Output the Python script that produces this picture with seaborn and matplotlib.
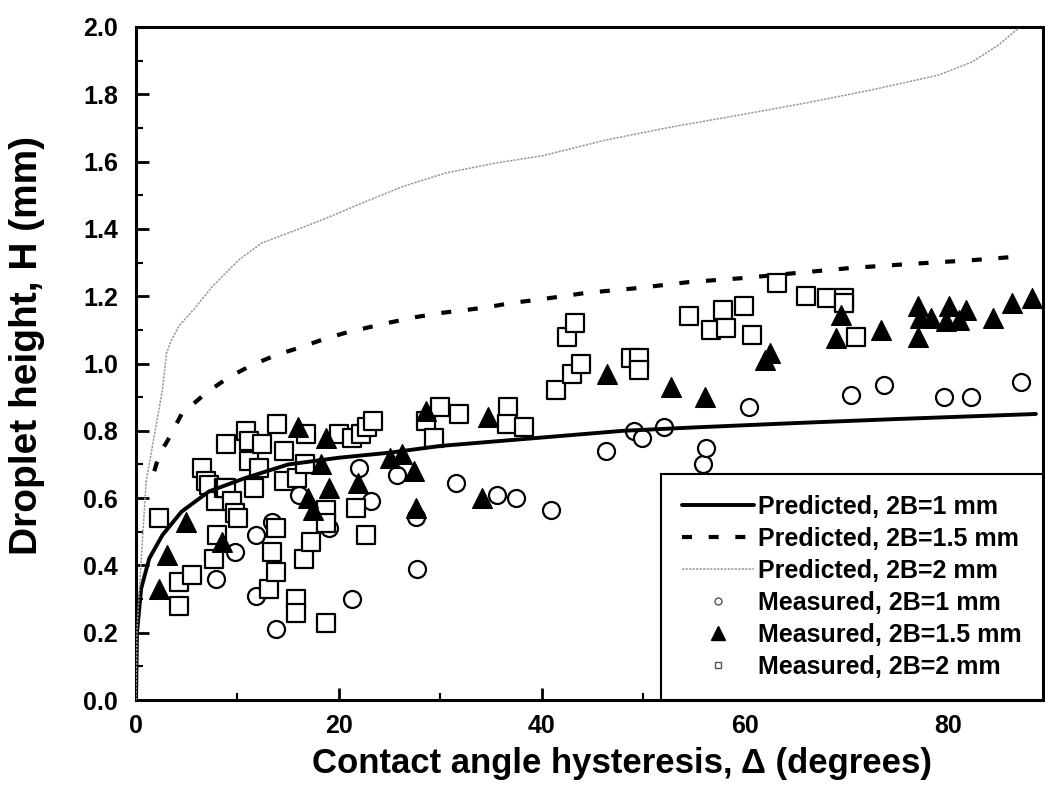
import numpy as np
import pandas as pd
import seaborn as sns
import matplotlib.pyplot as plt
from matplotlib.lines import Line2D

# predicted curves
pred1_x = [0, 0.1, 0.5, 1.3, 2.6, 4.5, 7.2, 10.8, 15, 20, 25, 30, 40, 48, 55, 65, 75, 88.7]
pred1_y = [0, 0.2, 0.33, 0.42, 0.49, 0.56, 0.62, 0.66, 0.70, 0.72, 0.735, 0.755, 0.78, 0.80, 0.81, 0.823, 0.835, 0.85]

pred15_x = [1.8, 2.3, 3.1, 4.5, 7.0, 9.2, 11.4, 13.8, 16, 18.3, 20.5, 23, 25.2, 27.6, 30, 32.5, 34.8,
            37, 39.5, 44.4, 49.4, 54.5, 59.9, 65.1, 70.5, 76.4, 82.4, 87]
pred15_y = [0.68, 0.73, 0.77, 0.85, 0.915, 0.96, 0.995, 1.025, 1.046, 1.07, 1.09, 1.108, 1.123, 1.138, 1.15, 1.159, 1.168,
            1.18, 1.189, 1.21, 1.224, 1.242, 1.254, 1.269, 1.284, 1.296, 1.307, 1.318]

pred2_x = [0, 0.1, 0.5, 1.0, 1.3, 2.3, 2.6, 3.0, 3.5, 4.2, 5.9, 7.5, 10.1, 12.4, 15.8, 19, 22.3, 26.2, 30.5,
           35.5, 40, 46.3, 52.8, 59.4, 66, 72.5, 79.1, 82.4, 85, 87]
pred2_y = [0, 0.21, 0.41, 0.65, 0.70, 0.87, 0.92, 1.03, 1.07, 1.11, 1.168, 1.228, 1.307, 1.358, 1.397, 1.435, 1.477, 1.525, 1.566,
           1.596, 1.617, 1.664, 1.703, 1.738, 1.774, 1.813, 1.857, 1.896, 1.946, 1.997]

# measured points
meas1_x = [7.9, 9.8, 11.8, 11.8, 13.4, 13.8, 16.1, 19.0, 21.3, 22.0, 23.2, 25.7, 27.6, 27.7, 31.5, 35.6, 37.5,
           40.9, 46.3, 49.1, 49.9, 52.0, 55.9, 56.2, 60.4, 70.5, 73.7, 79.6, 82.3, 87.2]
meas1_y = [0.36, 0.44, 0.49, 0.31, 0.53, 0.21, 0.61, 0.51, 0.30, 0.69, 0.59, 0.67, 0.545, 0.39, 0.645, 0.61, 0.60,
           0.565, 0.74, 0.80, 0.78, 0.81, 0.70, 0.75, 0.87, 0.905, 0.935, 0.90, 0.90, 0.945]

meas15_x = [2.3, 3.1, 4.9, 8.5, 16.0, 18.7, 18.2, 17.0, 19.0, 17.4, 21.9, 25.0, 26.2, 27.4, 27.6, 28.6, 34.7,
            34.1, 46.4, 52.7, 56.1, 62.0, 62.5, 69.5, 69.0, 73.4, 77.1, 77.3, 77.1, 78.4, 80.1, 79.8, 81.8,
            81.1, 84.5, 86.3, 88.3]
meas15_y = [0.33, 0.43, 0.53, 0.47, 0.81, 0.78, 0.70, 0.60, 0.63, 0.565, 0.645, 0.72, 0.73, 0.68, 0.57, 0.86, 0.84,
            0.60, 0.97, 0.93, 0.90, 1.01, 1.03, 1.145, 1.075, 1.10, 1.17, 1.135, 1.08, 1.135, 1.17, 1.125, 1.16,
            1.13, 1.135, 1.18, 1.195]

meas2_x = [2.3, 4.2, 4.2, 5.5, 6.5, 6.9, 7.2, 7.9, 7.7, 8.0, 8.7, 8.9, 8.9, 9.5, 9.8, 10.1, 10.8, 11.1, 11.1,
           11.6, 12.1, 12.4, 13.1, 13.4, 13.8, 13.8, 13.9, 14.6, 14.6, 15.8, 15.8, 15.9, 16.6, 16.7, 16.8,
           17.2, 18.7, 18.7, 18.7, 20.0, 21.3, 21.7, 22.2, 22.7, 22.8, 23.4, 28.6, 29.4, 30.0, 31.8, 36.7,
           36.6, 38.2, 41.4, 42.5, 43.3, 43.0, 43.9, 48.8, 49.6, 49.6, 54.5, 56.7, 57.9, 58.2, 59.9, 60.7,
           63.2, 66.0, 68.1, 69.8, 69.8, 71.0]
meas2_y = [0.54, 0.28, 0.35, 0.37, 0.69, 0.65, 0.64, 0.59, 0.42, 0.49, 0.63, 0.63, 0.76, 0.59, 0.555, 0.54, 0.80, 0.77, 0.71,
           0.63, 0.69, 0.76, 0.33, 0.44, 0.38, 0.51, 0.82, 0.74, 0.65, 0.30, 0.26, 0.66, 0.42, 0.70, 0.79,
           0.47, 0.565, 0.525, 0.23, 0.79, 0.78, 0.57, 0.79, 0.49, 0.81, 0.83, 0.83, 0.78, 0.87, 0.85, 0.87,
           0.82, 0.81, 0.92, 1.08, 1.12, 0.97, 1.00, 1.015, 1.015, 0.98, 1.14, 1.10, 1.16, 1.105, 1.17, 1.085,
           1.24, 1.20, 1.195, 1.195, 1.18, 1.08]

labels = ['Predicted, 2B=1 mm', 'Predicted, 2B=1.5 mm', 'Predicted, 2B=2 mm',
          'Measured, 2B=1 mm', 'Measured, 2B=1.5 mm', 'Measured, 2B=2 mm']

sns.set_style('ticks')
plt.rcParams['font.family'] = ['Liberation Sans Narrow', 'Liberation Sans', 'DejaVu Sans']
plt.rcParams['font.weight'] = 'bold'
for key in ['text.color', 'axes.labelcolor', 'xtick.color', 'ytick.color', 'axes.edgecolor']:
    plt.rcParams[key] = 'black'

fig = plt.figure(figsize=(10.45, 7.87), dpi=100)
ax = fig.add_axes([136 / 1045, 87 / 787, (1043 - 136) / 1045, (700 - 27) / 787])

# measured
sns.scatterplot(x=meas1_x, y=meas1_y, marker='o', s=150, color='white', edgecolor='black',
                linewidth=1.6, ax=ax, zorder=3)
sns.scatterplot(x=meas2_x, y=meas2_y, marker='s', s=150, color='white', edgecolor='black',
                linewidth=1.6, ax=ax, zorder=3)
sns.scatterplot(x=meas15_x, y=meas15_y, marker='^', s=200, color='black', edgecolor='black',
                linewidth=1, ax=ax, zorder=4)

# predicted
sns.lineplot(x=pred1_x, y=pred1_y, color='black', linewidth=2.8, ax=ax, zorder=5)
sns.lineplot(x=pred15_x, y=pred15_y, color='black', linewidth=3, linestyle=(0, (2.4, 4)), ax=ax, zorder=5)
sns.lineplot(x=pred2_x, y=pred2_y, color='#999999', linewidth=1.1, linestyle=(0, (1.5, 0.8)), ax=ax, zorder=5)

ax.set_xlim(0, 89.4)
ax.set_ylim(0, 2.0)
ax.set_xticks([0, 20, 40, 60, 80])
ax.set_xticks(np.arange(0, 90, 10), minor=True)
ax.set_yticks(np.arange(0, 2.01, 0.2))
ax.set_yticks(np.arange(0, 2.01, 0.1), minor=True)
ax.yaxis.set_major_formatter(plt.FormatStrFormatter('%.1f'))
ax.tick_params(which='major', direction='in', length=9, width=2, labelsize=18, pad=10)
ax.tick_params(axis='y', which='major', pad=13)
ax.tick_params(which='minor', direction='in', length=5, width=1.5)
for s in ax.spines.values():
    s.set_visible(True)
    s.set_linewidth(2.2)
    s.set_color('black')

ax.set_xlabel('Contact angle hysteresis, \u0394 (degrees)', fontsize=25, fontweight='bold')
ax.set_ylabel('Droplet height, H (mm)', fontsize=28, fontweight='bold')
ax.xaxis.set_label_coords(0.536, -0.07)
ax.yaxis.set_label_coords(-0.1, 0.527)

handles = [
    Line2D([], [], color='black', linewidth=2.8),
    Line2D([], [], color='black', linewidth=3, linestyle=(0, (2.4, 4))),
    Line2D([], [], color='#999999', linewidth=1.1, linestyle=(0, (1.5, 0.8))),
    Line2D([], [], marker='o', linestyle='', markersize=5, markerfacecolor='white', markeredgecolor='#555555'),
    Line2D([], [], marker='^', linestyle='', markersize=10, color='black'),
    Line2D([], [], marker='s', linestyle='', markersize=5, markerfacecolor='white', markeredgecolor='#555555'),
]
leg = ax.legend(handles, labels, loc='lower right', bbox_to_anchor=(1, 0), borderaxespad=0,
                frameon=True, fancybox=False, edgecolor='black', framealpha=1,
                prop={'size': 18, 'weight': 'bold'}, handlelength=2.9, handletextpad=0.15,
                labelspacing=0.32, borderpad=0.85)
leg.get_frame().set_linewidth(1.5)

fig.savefig('out.png', dpi=100)
